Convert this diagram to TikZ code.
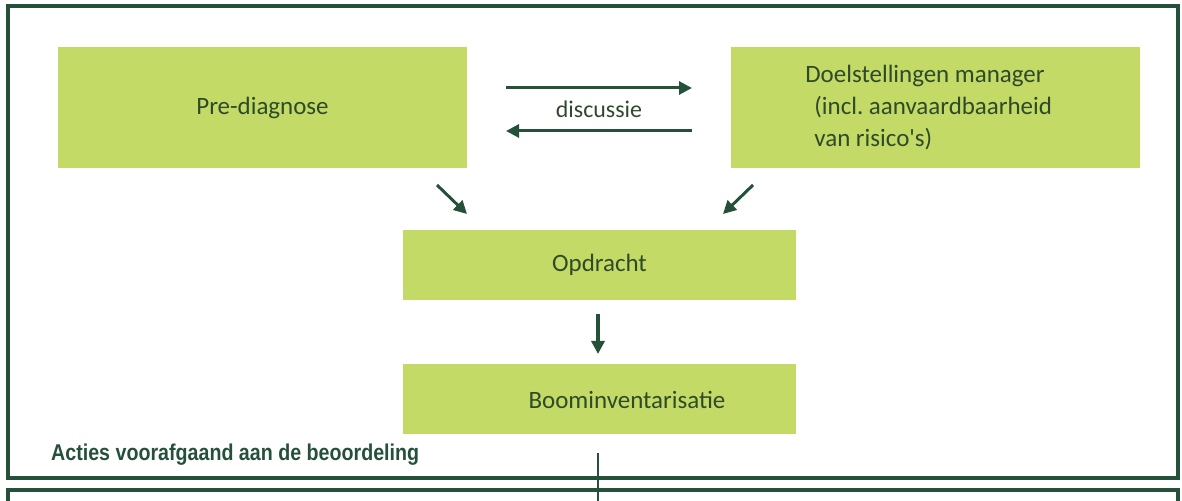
\documentclass[tikz,border=0pt]{standalone}
\usepackage{fontspec}
\setmainfont{Carlito}
\newfontfamily\labelfont[FakeStretch=0.86]{Liberation Sans}
\usepackage{xcolor}
\usepackage{tikz}
\usetikzlibrary{arrows.meta, positioning}
\definecolor{frameGreen}{HTML}{25503A}
\definecolor{boxGreen}{HTML}{C3DA66}
\definecolor{textGreen}{HTML}{2F4A2A}

\begin{document}
\begin{tikzpicture}[
    phase/.style={rectangle, fill=boxGreen, draw=none, align=center,
                  font=\fontsize{14.2}{18.2}\selectfont, text=textGreen},
    arrow/.style={-{Triangle[length=2.6mm, width=2.6mm]}, line width=1.7pt, color=frameGreen},
]
\useasboundingbox (0,0) rectangle (23.64,10.02);
% Outer frames
\draw[frameGreen, line width=2.2pt] (0.16,0.46) rectangle (23.56,9.90);
\draw[frameGreen, line width=2.2pt] (0.16,-0.5) rectangle (23.56,0.22);

% Top row
\node[phase, minimum width=8.18cm, minimum height=2.42cm] (prediag) at (5.25,7.87) {Pre-diagnose};
\node[phase, minimum width=8.18cm, minimum height=2.42cm, align=left] (goals) at (18.70,7.87)
    {Doelstellingen manager\hspace*{0.4cm}\\\hspace*{0.18cm}(incl.\ aanvaardbaarheid\\\hspace*{0.18cm}van risico\textquotesingle s)};
\coordinate (discA) at (10.12,8.26);
\coordinate (discB) at (13.84,8.26);
\coordinate (discC) at (13.84,7.40);
\coordinate (discD) at (10.12,7.40);
\draw[arrow] (discA) -- (discB);
\draw[arrow] (discC) -- (discD);
\node[font=\fontsize{13.6}{16}\selectfont, text=textGreen] (disc) at (11.98,7.84) {discussie};

% Middle column
\node[phase, minimum width=7.86cm, minimum height=1.40cm] (order) at (11.99,4.72) {Opdracht};
\node[phase, minimum width=7.86cm, minimum height=1.40cm] (inventory) at (11.99,2.03)
    {\hspace*{1.1cm}Boominventarisatie};
\coordinate (diagL) at (8.74,6.32);
\coordinate (diagLend) at (9.34,5.74);
\coordinate (diagR) at (15.06,6.32);
\coordinate (diagRend) at (14.46,5.74);
\draw[arrow] (diagL) -- (diagLend);
\draw[arrow] (diagR) -- (diagRend);
\coordinate (downA) at (11.96,3.74);
\coordinate (downB) at (11.96,2.94);
\draw[arrow, line width=2.2pt] (downA) -- (downB);

% Link to the next block
\coordinate (linkA) at (11.96,0.96);
\coordinate (linkB) at (11.96,-0.3);
\draw[frameGreen, line width=1.3pt] (linkA) -- (linkB);
\node[font=\labelfont\bfseries\fontsize{13}{15}\selectfont, text=frameGreen, anchor=west] (caption) at (0.90,0.92)
    {Acties voorafgaand aan de beoordeling};
\end{tikzpicture}
\end{document}
